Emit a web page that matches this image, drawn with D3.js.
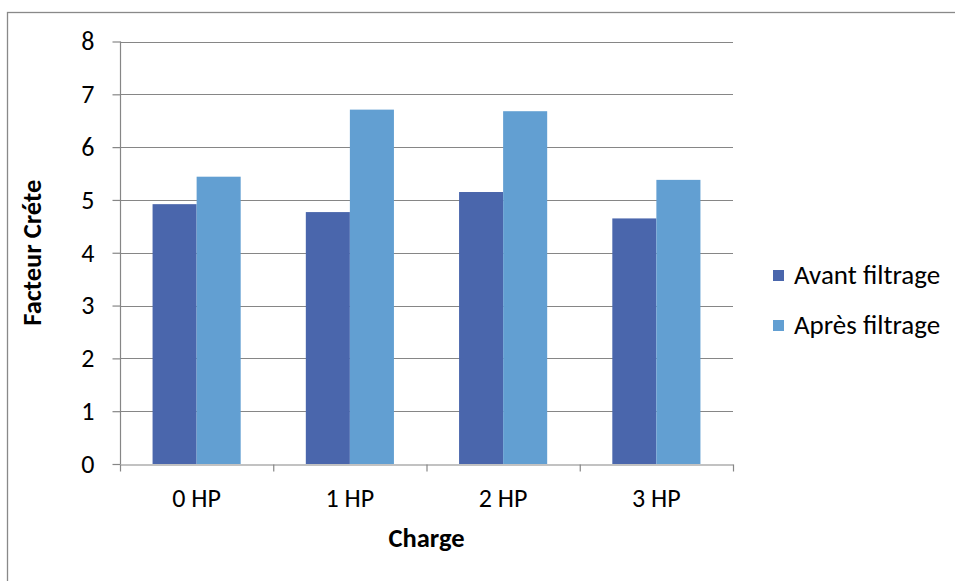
<!DOCTYPE html>
<html><head><meta charset="utf-8">
<script src="https://cdn.jsdelivr.net/npm/d3@7"></script>
<style>body{margin:0;background:#fff;} svg{display:block;font-family:Carlito,Calibri,"Open Sans",sans-serif;}</style>
</head><body>
<svg id="c" width="955" height="581"></svg>
<script>
const categories = ["0 HP", "1 HP", "2 HP", "3 HP"];
const seriesNames = ["Avant filtrage", "Après filtrage"];
const avant = [4.92, 4.77, 5.15, 4.65];
const apres = [5.44, 6.71, 6.68, 5.38];
const yTicks = [0, 1, 2, 3, 4, 5, 6, 7, 8];
const colors = ["#4A66AC", "#629FD2"];

const FONT = "Carlito,Calibri,'Open Sans',sans-serif";
const FS = 26;
const svg = d3.select("#c");
const m = {left: 120, right: 733, top: 41.5, bottom: 464};
// outer border
svg.append("rect").attr("x", 7.5).attr("y", 12.5).attr("width", 1000).attr("height", 1000)
  .attr("fill", "none").attr("stroke", "#898989").attr("stroke-width", 1.3);

const x = d3.scaleBand().domain(categories).range([m.left, m.right]).paddingInner(0.425).paddingOuter(0.2125);
const x0 = d3.scaleBand().domain(categories).range([m.left, m.right]);
const xs = d3.scaleBand().domain(seriesNames).range([0, x.bandwidth()]);
const y = d3.scaleLinear().domain([0, 8]).range([m.bottom, m.top]);

// gridlines
svg.append("g").selectAll("line").data(yTicks.filter(d => d > 0)).join("line")
  .attr("x1", m.left).attr("x2", m.right)
  .attr("y1", d => Math.round(y(d)) + 0.5).attr("y2", d => Math.round(y(d)) + 0.5)
  .attr("stroke", "#868686").attr("stroke-width", 1.2);

// bars
const data = categories.map((c, i) => ({c, vals: [avant[i], apres[i]]}));
const g = svg.append("g").selectAll("g").data(data).join("g")
  .attr("transform", d => `translate(${x(d.c)},0)`);
g.selectAll("rect").data(d => d.vals.map((v, j) => ({v, s: seriesNames[j], j}))).join("rect")
  .attr("x", d => xs(d.s)).attr("width", xs.bandwidth())
  .attr("y", d => y(d.v)).attr("height", d => y(0) - y(d.v))
  .attr("fill", d => colors[d.j]);

// y axis
const yAxis = svg.append("g").attr("transform", `translate(${m.left + 0.5},0)`)
  .call(d3.axisLeft(y).tickValues(yTicks).tickSize(8).tickPadding(18).tickFormat(d3.format("d")));
yAxis.select(".domain").attr("stroke", "#868686").attr("stroke-width", 1.2).attr("d", `M0,${m.top}V${m.bottom}`);
yAxis.selectAll(".tick line").attr("stroke", "#868686").attr("stroke-width", 1.2);
yAxis.selectAll(".tick text").attr("font-size", FS).attr("fill", "#000").attr("font-family", FONT).attr("dy", "0.32em");

// x axis
const xAxis = svg.append("g").attr("transform", `translate(0,${m.bottom + 0.5})`)
  .call(d3.axisBottom(x0).tickSize(0).tickPadding(24));
xAxis.select(".domain").attr("stroke", "#868686").attr("stroke-width", 1.2);
xAxis.selectAll(".tick text").attr("font-size", FS).attr("fill", "#000").attr("font-family", FONT);
const edges = [m.left].concat(categories.map(c => x0(c) + x0.bandwidth()));
xAxis.append("g").selectAll("line").data(edges).join("line")
  .attr("x1", d => d + 0.5).attr("x2", d => d + 0.5).attr("y1", 0).attr("y2", 7)
  .attr("stroke", "#868686").attr("stroke-width", 1.2);

// axis titles
svg.append("text").attr("transform", `translate(41,${(m.top + m.bottom) / 2}) rotate(-90)`)
  .attr("text-anchor", "middle").attr("font-weight", "bold").attr("font-size", 26.5).text("Facteur Créte");
svg.append("text").attr("x", (m.left + m.right) / 2).attr("y", 547)
  .attr("text-anchor", "middle").attr("font-weight", "bold").attr("font-size", 26.5).text("Charge");

// legend
const lg = svg.append("g").selectAll("g").data(seriesNames).join("g")
  .attr("transform", (d, i) => `translate(773,${270 + i * 50})`);
lg.append("rect").attr("width", 11).attr("height", 11).attr("fill", (d, i) => colors[i]);
lg.append("text").attr("x", 21).attr("y", 14).attr("font-size", 27).text(d => d);
</script>
</body></html>
